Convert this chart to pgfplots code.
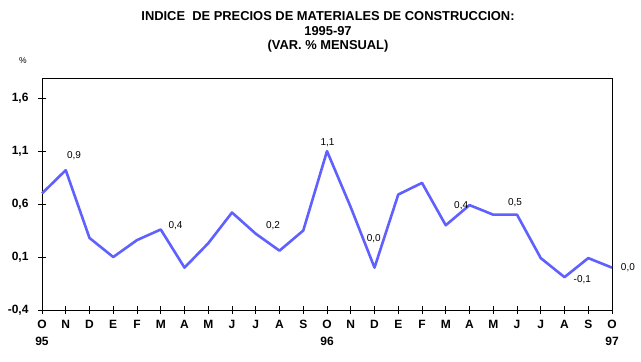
\documentclass[border=0pt]{standalone}
\usepackage{pgfplots}
\pgfplotsset{compat=1.18}
\usepackage{fontspec}
\setmainfont{Liberation Sans}
\definecolor{serie}{RGB}{96,96,255}
\begin{document}
\begin{tikzpicture}
\path[use as bounding box] (0,0) rectangle (641bp,-362bp);
\node[font=\bfseries\fontsize{12.9bp}{14bp}\selectfont] at (328bp,-16.5bp) {INDICE\ \ DE PRECIOS DE MATERIALES DE CONSTRUCCION:};
\node[font=\bfseries\fontsize{12.9bp}{14bp}\selectfont] at (328bp,-31bp) {1995-97};
\node[font=\bfseries\fontsize{12.9bp}{14bp}\selectfont] at (328bp,-46.5bp) {(VAR. \% MENSUAL)};
\node[font=\fontsize{8.5bp}{9bp}\selectfont] at (23bp,-61bp) {\%};
\begin{axis}[
  at={(42bp,-310bp)}, anchor=south west,
  scale only axis, width=570bp, height=232bp,
  xmin=0, xmax=24, ymin=-0.4, ymax=1.79,
  axis line style={black, line width=0.9bp},
  tick style={black, line width=0.9bp},
  xtick pos=bottom, ytick pos=left,
  tick align=center, major tick length=8bp,
  xtick={0,...,24},
  xticklabels={{O\\95},N,D,E,F,M,A,M,J,J,A,S,{O\\96},N,D,E,F,M,A,M,J,J,A,S,{O\\97}},
  xticklabel style={align=center, font=\bfseries\fontsize{12bp}{17bp}\selectfont, yshift=-3bp},
  ytick={-0.4,0.1,0.6,1.1,1.6},
  yticklabels={{-0,4},{0,1},{0,6},{1,1},{1,6}},
  yticklabel style={font=\bfseries\fontsize{12bp}{12bp}\selectfont, xshift=-6bp},
  clip=false,
]
\addplot[serie, line width=2.6bp, line join=round] coordinates {
(0,0.70) (1,0.92) (2,0.28) (3,0.10) (4,0.26) (5,0.36) (6,0.00) (7,0.23) (8,0.52) (9,0.32) (10,0.16) (11,0.35)
(12,1.10) (13,0.57) (14,0.00) (15,0.69) (16,0.80) (17,0.40) (18,0.59) (19,0.50) (20,0.50) (21,0.09) (22,-0.09) (23,0.09) (24,0.00)
};
\tikzset{dl/.style={font=\fontsize{10bp}{11bp}\selectfont, inner sep=0pt}}
\node[dl] at (axis cs:1.347,1.053) {0,9};
\node[dl] at (axis cs:5.62,0.396) {0,4};
\node[dl] at (axis cs:9.73,0.396) {0,2};
\node[dl] at (axis cs:12.02,1.183) {1,1};
\node[dl] at (axis cs:13.97,0.272) {0,0};
\node[dl] at (axis cs:17.65,0.586) {0,4};
\node[dl] at (axis cs:19.92,0.611) {0,5};
\node[dl] at (axis cs:22.75,-0.117) {-0,1};
\node[dl] at (axis cs:24.67,-0.002) {0,0};
\end{axis}
\end{tikzpicture}
\end{document}
